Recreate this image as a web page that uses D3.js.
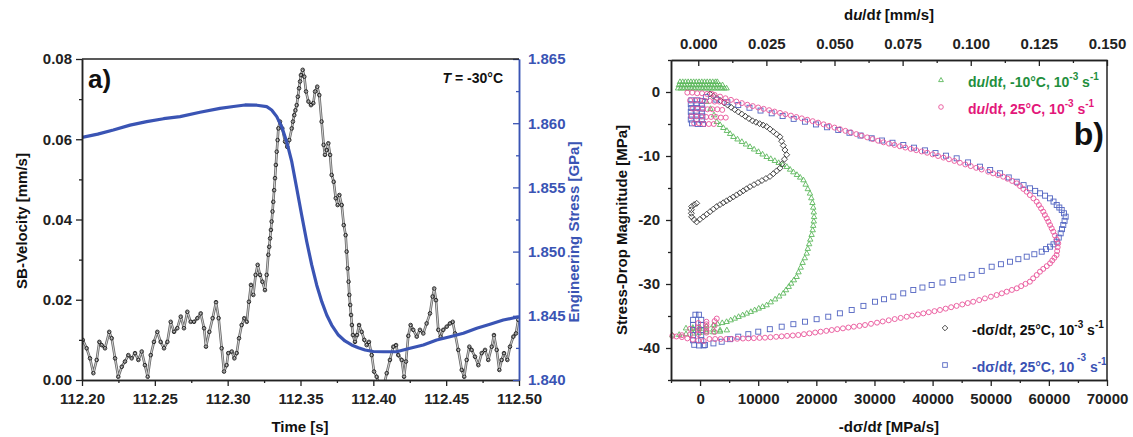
<!DOCTYPE html>
<html><head><meta charset="utf-8">
<script src="https://cdn.jsdelivr.net/npm/d3@7"></script>
<style>
body{margin:0;background:#fff;}
svg text{font-family:"Liberation Sans",Arial,Helvetica,sans-serif;font-weight:bold;}
</style></head><body>
<svg id="c" width="1133" height="437"></svg>
<script>
// ---------- Panel a) data ----------
const velocity = [[112.2005,0.0100],[112.2032,0.0079],[112.2055,0.0054],[112.2078,0.0017],[112.2101,0.0050],[112.2119,0.0095],[112.2135,0.0087],[112.2158,0.0079],[112.2187,0.0120],[112.2204,0.0104],[112.2227,0.0054],[112.2249,0.0008],[112.2273,0.0033],[112.2295,0.0046],[112.2318,0.0062],[112.2341,0.0054],[112.2364,0.0067],[112.2387,0.0050],[112.2410,0.0071],[112.2432,0.0037],[112.2451,0.0008],[112.2472,0.0062],[112.2494,0.0095],[112.2517,0.0120],[112.2540,0.0095],[112.2563,0.0079],[112.2586,0.0095],[112.2609,0.0145],[112.2632,0.0120],[112.2654,0.0129],[112.2678,0.0158],[112.2700,0.0129],[112.2723,0.0170],[112.2746,0.0145],[112.2769,0.0145],[112.2792,0.0154],[112.2815,0.0166],[112.2838,0.0129],[112.2851,0.0083],[112.2874,0.0120],[112.2897,0.0154],[112.2920,0.0194],[112.2938,0.0154],[112.2959,0.0079],[112.2975,0.0021],[112.2993,0.0037],[112.3004,0.0067],[112.3028,0.0071],[112.3046,0.0054],[112.3062,0.0067],[112.3078,0.0104],[112.3096,0.0137],[112.3114,0.0154],[112.3131,0.0145],[112.3146,0.0195],[112.3160,0.0237],[112.3176,0.0212],[112.3192,0.0262],[112.3206,0.0287],[112.3222,0.0262],[112.3238,0.0245],[112.3256,0.0224],[112.3268,0.0262],[112.3279,0.0312],[112.3285,0.0332],[112.3291,0.0353],[112.3297,0.0374],[112.3302,0.0395],[112.3308,0.0420],[112.3313,0.0444],[112.3319,0.0473],[112.3325,0.0503],[112.3331,0.0536],[112.3337,0.0569],[112.3343,0.0598],[112.3348,0.0627],[112.3359,0.0644],[112.3375,0.0627],[112.3394,0.0594],[112.3409,0.0581],[112.3423,0.0598],[112.3440,0.0627],[112.3448,0.0644],[112.3457,0.0660],[112.3465,0.0672],[112.3474,0.0685],[112.3482,0.0706],[112.3490,0.0727],[112.3497,0.0744],[112.3503,0.0760],[112.3515,0.0773],[112.3526,0.0756],[112.3538,0.0719],[112.3554,0.0694],[112.3572,0.0685],[112.3588,0.0690],[112.3600,0.0719],[112.3615,0.0731],[112.3629,0.0710],[112.3645,0.0644],[112.3659,0.0586],[112.3668,0.0561],[112.3680,0.0573],[112.3691,0.0590],[112.3703,0.0561],[112.3714,0.0511],[112.3728,0.0494],[112.3742,0.0453],[112.3755,0.0436],[112.3767,0.0461],[112.3783,0.0436],[112.3797,0.0386],[112.3810,0.0361],[112.3817,0.0320],[112.3824,0.0278],[112.3830,0.0245],[112.3835,0.0212],[112.3841,0.0187],[112.3847,0.0162],[112.3853,0.0137],[112.3860,0.0112],[112.3874,0.0095],[112.3888,0.0112],[112.3902,0.0137],[112.3920,0.0120],[112.3938,0.0100],[112.3954,0.0087],[112.3970,0.0095],[112.3989,0.0062],[112.4005,0.0021],[112.4023,0.0008],[112.4050,-0.0020],[112.4075,-0.0010],[112.4092,0.0017],[112.4114,0.0050],[112.4137,0.0083],[112.4156,0.0087],[112.4171,0.0062],[112.4195,0.0050],[112.4211,0.0008],[112.4224,0.0046],[112.4240,0.0110],[112.4256,0.0137],[112.4274,0.0125],[112.4298,0.0108],[112.4320,0.0125],[112.4343,0.0116],[112.4366,0.0141],[112.4389,0.0166],[112.4407,0.0208],[112.4418,0.0228],[112.4430,0.0199],[112.4446,0.0125],[112.4462,0.0108],[112.4480,0.0125],[112.4504,0.0133],[112.4526,0.0141],[112.4545,0.0145],[112.4561,0.0116],[112.4583,0.0075],[112.4607,0.0025],[112.4624,0.0008],[112.4641,0.0050],[112.4659,0.0083],[112.4675,0.0075],[112.4698,0.0058],[112.4721,0.0037],[112.4744,0.0067],[112.4767,0.0075],[112.4789,0.0050],[112.4813,0.0083],[112.4828,0.0112],[112.4847,0.0075],[112.4865,0.0025],[112.4881,0.0050],[112.4897,0.0067],[112.4920,0.0050],[112.4938,0.0083],[112.4961,0.0108],[112.4979,0.0116],[112.4995,0.0150]];

const stress = [[112.2000,1.85889],[112.2108,1.85915],[112.2215,1.85947],[112.2330,1.85985],[112.2444,1.86012],[112.2560,1.86035],[112.2673,1.86051],[112.2810,1.86085],[112.2947,1.86116],[112.3040,1.86130],[112.3119,1.86142],[112.3200,1.86140],[112.3268,1.86129],[112.3302,1.86103],[112.3337,1.86051],[112.3371,1.85973],[112.3405,1.85856],[112.3440,1.85700],[112.3474,1.85493],[112.3508,1.85285],[112.3543,1.85077],[112.3577,1.84896],[112.3611,1.84740],[112.3646,1.84610],[112.3680,1.84506],[112.3714,1.84428],[112.3760,1.84350],[112.3805,1.84304],[112.3851,1.84273],[112.3897,1.84252],[112.3943,1.84234],[112.4000,1.84222],[112.4068,1.84220],[112.4160,1.84220],[112.4252,1.84247],[112.4343,1.84273],[112.4435,1.84312],[112.4526,1.84337],[112.4618,1.84364],[112.4710,1.84403],[112.4801,1.84434],[112.4892,1.84467],[112.5000,1.84493]];

const timeTicks = [112.20,112.25,112.30,112.35,112.40,112.45,112.50];
const timeMinor = [112.225,112.275,112.325,112.375,112.425,112.475];
const velTicks = [0,0.02,0.04,0.06,0.08];
const velMinor = [0.01,0.03,0.05,0.07];
const stressTicks = [1.840,1.845,1.850,1.855,1.860,1.865];
const stressMinor = [1.8425,1.8475,1.8525,1.8575,1.8625];

// ---------- Panel b) data ----------
// du/dt series: [du/dt (mm/s), stress-drop magnitude (MPa)]
const duMinus10 = [
[-0.0067,1.6],[-0.0057,1.6],[-0.0047,1.6],[-0.0037,1.6],[-0.0027,1.6],[-0.0017,1.6],[-0.0007,1.6],[0.0003,1.6],[0.0013,1.6],[0.0023,1.6],[0.0033,1.6],[0.0043,1.6],[0.0053,1.6],[0.0063,1.6],[0.0070,1.6],
[-0.0071,1.1],[-0.0061,1.1],[-0.0051,1.1],[-0.0041,1.1],[-0.0031,1.1],[-0.0021,1.1],[-0.0011,1.1],[-0.0001,1.1],[0.0009,1.1],[0.0019,1.1],[0.0029,1.1],[0.0039,1.1],[0.0049,1.1],[0.0059,1.1],[0.0069,1.1],[0.0079,1.1],[0.0089,1.1],
[-0.0074,0.6],[-0.0064,0.6],[-0.0054,0.6],[-0.0044,0.6],[-0.0034,0.6],[-0.0024,0.6],[-0.0014,0.6],[-0.0004,0.6],[0.0006,0.6],[0.0016,0.6],[0.0026,0.6],[0.0036,0.6],[0.0046,0.6],[0.0056,0.6],[0.0066,0.6],[0.0076,0.6],[0.0086,0.6],[0.0096,0.6],[0.0104,0.6],
[0.0030,-1.5],[0.0045,-2.6],[0.0058,-3.6],
[0.0068,-4.64],[0.0080,-5.11],[0.0092,-5.58],[0.0105,-6.04],[0.0117,-6.51],[0.0129,-6.98],[0.0144,-7.37],[0.0160,-7.76],[0.0175,-8.16],[0.0190,-8.55],[0.0205,-8.94],[0.0221,-9.33],[0.0236,-9.72],[0.0251,-10.11],[0.0266,-10.42],[0.0281,-10.73],[0.0295,-11.05],[0.0310,-11.36],[0.0325,-11.67],[0.0337,-12.09],[0.0349,-12.50],[0.0362,-12.92],[0.0374,-13.33],[0.0386,-13.75],[0.0394,-14.44],[0.0402,-15.14],[0.0410,-15.83],[0.0415,-16.56],[0.0419,-17.30],[0.0422,-18.03],[0.0424,-18.77],[0.0425,-19.50],[0.0424,-20.19],[0.0422,-20.87],[0.0420,-21.56],[0.0416,-22.29],[0.0411,-23.02],[0.0407,-23.74],[0.0402,-24.47],[0.0398,-25.20],[0.0391,-25.93],[0.0383,-26.66],[0.0376,-27.40],[0.0368,-28.13],[0.0361,-28.86],[0.0351,-29.38],[0.0341,-29.90],[0.0332,-30.41],[0.0322,-30.93],[0.0312,-31.45],[0.0297,-31.91],[0.0282,-32.37],[0.0266,-32.82],[0.0251,-33.28],[0.0236,-33.54],[0.0222,-33.80],[0.0207,-34.06],[0.0193,-34.32],[0.0178,-34.58],[0.0163,-34.84],[0.0148,-35.10],[0.0134,-35.37],[0.0119,-35.63],[0.0104,-35.89],[0.0088,-36.06],[0.0071,-36.24],[0.0055,-36.41],
[0.0030,-36.6],[0.0005,-36.7],[-0.0020,-36.8],[-0.0045,-36.9],[-0.0020,-37.0],[0.0005,-37.0],[0.0030,-37.1],[0.0055,-37.1],[0.0080,-37.2],[0.0105,-37.2],[0.0080,-37.4],[0.0055,-37.5],[0.0030,-37.5],[0.0005,-37.6],[-0.0020,-37.7],[-0.0045,-37.8],[-0.0070,-37.9],[-0.0095,-38.0]];

const du25 = [
[-0.0040,-0.1],[-0.0022,-0.1],[-0.0004,-0.2],[0.0014,-0.2],[0.0032,-0.3],[0.0050,-0.3],
[-0.0030,-1.3],[-0.0012,-1.3],[0.0006,-1.3],[0.0024,-1.4],[0.0042,-1.4],[0.0060,-1.5],[0.0078,-1.5],[0.0096,-1.6],
[-0.0020,-2.6],[-0.0002,-2.6],[0.0016,-2.6],[0.0034,-2.7],[0.0052,-2.7],[0.0070,-2.7],[0.0088,-2.8],
[-0.0025,-3.8],[-0.0007,-3.8],[0.0011,-3.8],[0.0029,-3.9],[0.0047,-3.9],[0.0065,-3.9],[0.0083,-4.0],[0.0101,-4.0],
[-0.0015,-4.9],[0.0003,-4.9],[0.0021,-5.0],[0.0039,-5.0],[0.0057,-5.0],
[0.006,-0.46],[0.008,-0.72],[0.010,-0.98],[0.012,-1.23],[0.014,-1.49],[0.016,-1.74],[0.018,-1.99],[0.020,-2.20],[0.022,-2.42],[0.024,-2.63],[0.026,-2.84],[0.028,-3.06],[0.030,-3.27],[0.032,-3.48],[0.034,-3.69],[0.036,-3.91],[0.038,-4.12],[0.040,-4.34],[0.042,-4.56],[0.044,-4.79],[0.046,-5.05],[0.048,-5.30],[0.050,-5.56],[0.052,-5.81],[0.054,-6.07],[0.056,-6.32],[0.058,-6.58],[0.060,-6.83],[0.062,-7.09],[0.064,-7.35],[0.066,-7.61],[0.068,-7.86],[0.070,-8.07],[0.072,-8.27],[0.074,-8.48],[0.076,-8.68],[0.078,-8.89],[0.080,-9.09],[0.082,-9.29],[0.084,-9.49],[0.086,-9.74],[0.088,-10.00],[0.090,-10.25],[0.092,-10.51],[0.094,-10.77],[0.096,-11.05],[0.098,-11.32],[0.100,-11.58],[0.102,-11.85],[0.104,-12.11],
[0.1064,-12.45],[0.1082,-12.71],[0.1100,-12.97],[0.1119,-13.23],[0.1135,-13.55],[0.1152,-13.90],[0.1169,-14.27],[0.1181,-14.70],[0.1193,-15.14],[0.1205,-15.58],[0.1217,-16.10],[0.1230,-16.62],[0.1242,-17.14],[0.1250,-17.66],[0.1258,-18.18],[0.1266,-18.70],[0.1272,-19.22],[0.1279,-19.75],[0.1285,-20.27],[0.1291,-20.79],[0.1297,-21.31],[0.1303,-21.83],[0.1309,-22.43],[0.1315,-23.04],[0.1321,-23.64],[0.1319,-24.25],[0.1317,-24.86],[0.1315,-25.47],[0.1307,-25.90],[0.1299,-26.34],[0.1291,-26.77],[0.1279,-27.21],[0.1266,-27.64],[0.1254,-28.08],[0.1242,-28.60],[0.1229,-29.12],[0.1217,-29.64],[0.1201,-29.98],[0.1185,-30.33],[0.1169,-30.67],[0.1151,-30.93],[0.1132,-31.20],[0.1114,-31.46],[0.1095,-31.72],[0.1074,-31.98],[0.1052,-32.25],[0.1031,-32.51],[0.1009,-32.77],
[0.0989,-32.98],[0.0969,-33.20],[0.0948,-33.42],[0.0928,-33.63],[0.0908,-33.85],[0.0887,-34.06],[0.0867,-34.24],[0.0846,-34.41],[0.0826,-34.59],[0.0806,-34.76],[0.0785,-34.94],[0.0765,-35.11],[0.0743,-35.30],[0.0721,-35.48],[0.0699,-35.67],[0.0677,-35.85],[0.0656,-36.04],[0.0634,-36.22],[0.0612,-36.41],[0.0592,-36.54],[0.0571,-36.67],[0.0551,-36.80],[0.0531,-36.93],[0.0510,-37.06],[0.0490,-37.19],[0.0470,-37.32],[0.0449,-37.45],[0.0429,-37.58],[0.0408,-37.71],[0.0388,-37.84],[0.0367,-37.97],[0.0347,-38.04],[0.0326,-38.11],[0.0306,-38.18],[0.0286,-38.25],[0.0265,-38.32],[0.0245,-38.39],[0.0225,-38.42],[0.0204,-38.46],[0.0184,-38.49],[0.0164,-38.52],[0.0143,-38.56],[0.0123,-38.59],[0.0103,-38.59],[0.0082,-38.59],[0.0062,-38.59],[0.0041,-38.59],
[0.0020,-38.9],[0.0000,-38.8],[-0.0020,-38.7],[-0.0040,-38.5],[-0.0060,-38.3],[-0.0080,-38.2],[-0.0095,-38.1],[-0.0060,-38.0],[-0.0030,-37.9],[0.0000,-37.8],[0.0030,-37.6],[0.0060,-37.5],[0.0030,-37.3],[0.0000,-37.2],[-0.0030,-37.0],[0.0000,-36.8],[0.0030,-36.7],[0.0060,-36.5],[0.0030,-36.3],[0.0000,-36.1],[0.0030,-35.9],[0.0060,-35.8],[0.0068,-35.4]];

// -dsigma/dt series: [-dσ/dt (MPa/s), stress-drop magnitude (MPa)]
const dsBlack = [[1700,-0.30],[2310,-0.65],[2920,-1.00],[3530,-1.35],[4140,-1.70],[4750,-2.05],[5350,-2.40],[5960,-2.75],[6570,-3.10],[7180,-3.45],[7790,-3.80],[8400,-4.15],[9010,-4.50],[9620,-4.72],[10240,-4.95],[10850,-5.17],[11460,-5.40],[12030,-5.80],[12600,-6.20],[13170,-6.60],[13740,-7.00],[14030,-7.69],[14310,-8.37],[14600,-9.06],[14900,-9.80],[14520,-10.50],[14130,-11.20],[13750,-11.90],[13170,-12.33],[12600,-12.77],[12020,-13.20],[11330,-13.52],[10640,-13.84],[9960,-14.16],[9270,-14.48],[8580,-14.80],[8000,-15.12],[7430,-15.44],[6860,-15.76],[6280,-16.08],[5710,-16.40],[5140,-16.70],[4570,-17.00],[4000,-17.30],[3430,-17.60],[2860,-17.90],[2285,-18.30],[1710,-18.70],[1135,-19.10],[560,-19.50],[-15,-19.90],[-590,-20.30],[-1020,-19.95],[-1450,-19.50],[-1500,-18.95],[-1500,-18.40],[-1450,-17.90],[-1020,-17.60],[-580,-17.40]];

const dsBlue = [
[-1500,-1.3],[-500,-1.3],[400,-1.4],[-1600,-1.9],[-600,-1.9],[300,-2.0],[-1500,-2.5],[-500,-2.5],[400,-2.6],[-1600,-3.1],[-600,-3.1],[300,-3.2],[-1500,-3.7],[-500,-3.7],[400,-3.8],[-1600,-4.3],[-600,-4.3],[300,-4.4],[-1400,-4.9],[-400,-5.0],[500,-5.0],
[1000,-0.8],[2800,-1.20],[4700,-1.60],[6570,-2.03],[8500,-2.46],[10400,-2.90],[12320,-3.33],[14200,-3.76],[16100,-4.20],[18050,-4.64],[19950,-5.07],[21850,-5.51],[23770,-5.94],[25700,-6.37],[27600,-6.80],[29520,-7.23],[31300,-7.58],[33100,-7.93],[34960,-8.28],[36800,-8.70],[38700,-9.12],[40500,-9.54],[42300,-9.95],[44140,-10.36],[46100,-11.00],[48150,-11.67],[49900,-12.18],[51590,-12.70],[53100,-13.35],[54470,-14.02],[55650,-14.55],[56750,-15.05],[57650,-15.45],[58470,-15.83],[59350,-16.20],[60190,-16.61],[60800,-17.12],[61350,-17.66],[61800,-18.05],[62210,-18.44],[62600,-18.95],[62890,-19.48],[62700,-20.13],[62480,-20.78],[62250,-21.43],[62030,-22.08],[61700,-22.75],[61350,-23.39],[60800,-23.80],[60190,-24.17],[59500,-24.55],[58770,-24.95],[57500,-25.35],[56190,-25.73],[54750,-26.12],[53310,-26.52],[51750,-26.91],[50160,-27.30],[48450,-27.95],[46720,-28.58],[45100,-28.98],[43560,-29.38],[41700,-29.77],[39840,-30.16],[38250,-30.55],[36680,-30.94],[34950,-31.46],[33240,-31.98],[31650,-32.38],[30090,-32.77],[28100,-33.42],[26080,-34.06],[24050,-34.58],[22050,-35.11],[20050,-35.50],[18050,-35.89],[16050,-36.28],[14040,-36.67],[12000,-37.06],[10010,-37.45],[8300,-37.84],[6570,-38.23],[5150,-38.62],[3720,-39.02],[2300,-39.28],[840,-39.53],
[-800,-34.8],[-200,-34.8],[-1200,-35.6],[200,-35.6],[-1200,-36.4],[200,-36.4],[-1200,-37.2],[200,-37.2],[-1200,-38.0],[200,-38.0],[-1200,-38.8],[200,-38.8],[-1000,-39.5],[-200,-39.6],[600,-39.6]];

const rateTicks = [0,10000,20000,30000,40000,50000,60000,70000];
const rateMinor = [-5000,5000,15000,25000,35000,45000,55000,65000];
const duTicks = [0,0.025,0.05,0.075,0.1,0.125,0.15];
const duMinor = [0.0125,0.0375,0.0625,0.0875,0.1125,0.1375];
const dropTicks = [0,-10,-20,-30,-40];
const dropMinor = [5,-5,-15,-25,-35,-45];

// ---------- drawing ----------
const svg = d3.select("#c");
const AX = "#222";
const BLUE = "#3a54b4";

function styleAxis(g, color, fs){
  g.attr("font-family", null).attr("font-size", null);
  g.selectAll("path.domain").attr("stroke", color).attr("stroke-width", 1.5);
  g.selectAll(".tick line").attr("stroke", color).attr("stroke-width", 1.3);
  g.selectAll("text").attr("fill", color).style("font-size", (fs||15)+"px").style("font-weight","bold");
}
function addAxis(axis, tx, ty, color){
  const g = svg.append("g").attr("transform", `translate(${tx},${ty})`).call(axis);
  styleAxis(g, color);
  return g;
}

// ===== Panel a =====
const xA = d3.scaleLinear([112.2,112.5],[82,519]);
const yV = d3.scaleLinear([0,0.08],[380,59]);
const yS = d3.scaleLinear([1.84,1.865],[380,59]);

svg.append("clipPath").attr("id","clipA").append("rect").attr("x",82).attr("y",59).attr("width",437).attr("height",321);

const gA = svg.append("g").attr("clip-path","url(#clipA)");
gA.append("path").datum(velocity)
  .attr("d", d3.line().x(d=>xA(d[0])).y(d=>yV(d[1])))
  .attr("fill","none").attr("stroke","#666").attr("stroke-width",2.6).attr("stroke-linejoin","round");
gA.append("path").datum(velocity)
  .attr("d", d3.line().x(d=>xA(d[0])).y(d=>yV(d[1])))
  .attr("fill","none").attr("stroke","#eee").attr("stroke-width",0.8).attr("stroke-linejoin","round");
gA.selectAll("circle.v").data(velocity).join("circle").attr("class","v")
  .attr("cx",d=>xA(d[0])).attr("cy",d=>yV(d[1])).attr("r",1.8)
  .attr("fill","none").attr("stroke","#1a1a1a").attr("stroke-width",0.9);
gA.append("path").datum(stress)
  .attr("d", d3.line().x(d=>xA(d[0])).y(d=>yS(d[1])))
  .attr("fill","none").attr("stroke",BLUE).attr("stroke-width",3.2).attr("stroke-linejoin","round");

// axes a
addAxis(d3.axisBottom(xA).tickValues(timeTicks).tickFormat(d3.format(".2f")).tickSize(6).tickPadding(7).tickSizeOuter(0),0,380,AX);
addAxis(d3.axisBottom(xA).tickValues(timeMinor).tickFormat("").tickSize(3).tickSizeOuter(0),0,380,AX);
addAxis(d3.axisLeft(yV).tickValues(velTicks).tickFormat(d3.format(".2f")).tickSize(6).tickPadding(4).tickSizeOuter(0),82,0,AX);
addAxis(d3.axisLeft(yV).tickValues(velMinor).tickFormat("").tickSize(3).tickSizeOuter(0),82,0,AX);
addAxis(d3.axisRight(yS).tickValues(stressTicks).tickFormat(d3.format(".3f")).tickSize(-6).tickPadding(9).tickSizeOuter(0),519,0,BLUE);
addAxis(d3.axisRight(yS).tickValues(stressMinor).tickFormat("").tickSize(-3).tickSizeOuter(0),519,0,BLUE);
svg.append("line").attr("x1",82).attr("x2",519).attr("y1",59).attr("y2",59).attr("stroke",AX).attr("stroke-width",1.5);

svg.append("text").attr("x",88).attr("y",88).style("font-size","26px").attr("fill","#111").text("a)");
const tT = svg.append("text").attr("x",503).attr("y",83).attr("text-anchor","end").style("font-size","14px").attr("fill","#111");
tT.append("tspan").style("font-style","italic").text("T");
tT.append("tspan").text(" = -30°C");

svg.append("text").attr("x",300).attr("y",432).attr("text-anchor","middle").style("font-size","15px").attr("fill","#111").text("Time [s]");
svg.append("text").attr("transform","translate(27,221) rotate(-90)").attr("text-anchor","middle").style("font-size","15px").attr("fill","#111").text("SB-Velocity [mm/s]");
svg.append("text").attr("transform","translate(579,232) rotate(-90)").attr("text-anchor","middle").style("font-size","15px").attr("fill",BLUE).text("Engineering Stress [GPa]");

// ===== Panel b =====
const xB = d3.scaleLinear([-5000,70000],[671,1107]);
const xT = d3.scaleLinear([-0.01,0.15],[671,1107]);
const yR = d3.scaleLinear([-45,5],[380,60]);

const GREEN = "#5cb85c", PINK = "#e9539a", BLK = "#3a3a3a", BLUEM = "#5466c2";
const triPath = "M0,-2.9L2.7,1.8L-2.7,1.8Z";
const diaPath = "M0,-3L3,0L0,3L-3,0Z";

const gB = svg.append("g");
gB.selectAll("path.g").data(duMinus10).join("path").attr("class","g")
  .attr("transform",d=>`translate(${xT(d[0])},${yR(d[1])})`).attr("d",triPath)
  .attr("fill","none").attr("stroke",GREEN).attr("stroke-width",0.9);
gB.selectAll("path.k").data(dsBlack).join("path").attr("class","k")
  .attr("transform",d=>`translate(${xB(d[0])},${yR(d[1])})`).attr("d",diaPath)
  .attr("fill","none").attr("stroke",BLK).attr("stroke-width",0.9);
gB.selectAll("rect.b").data(dsBlue).join("rect").attr("class","b")
  .attr("x",d=>xB(d[0])-2.5).attr("y",d=>yR(d[1])-2.5).attr("width",5).attr("height",5)
  .attr("fill","none").attr("stroke",BLUEM).attr("stroke-width",0.9);
gB.selectAll("circle.p").data(du25).join("circle").attr("class","p")
  .attr("cx",d=>xT(d[0])).attr("cy",d=>yR(d[1])).attr("r",2.5)
  .attr("fill","none").attr("stroke",PINK).attr("stroke-width",0.9);

const fmtPlain = d => String(d);
addAxis(d3.axisBottom(xB).tickValues(rateTicks).tickFormat(fmtPlain).tickSize(6).tickPadding(7).tickSizeOuter(0),0,380,AX);
addAxis(d3.axisBottom(xB).tickValues(rateMinor).tickFormat("").tickSize(3).tickSizeOuter(0),0,380,AX);
addAxis(d3.axisTop(xT).tickValues(duTicks).tickFormat(d3.format(".3f")).tickSize(-6).tickPadding(11).tickSizeOuter(0),0,60,AX);
addAxis(d3.axisTop(xT).tickValues(duMinor).tickFormat("").tickSize(-3).tickSizeOuter(0),0,60,AX);
addAxis(d3.axisLeft(yR).tickValues(dropTicks).tickFormat(fmtPlain).tickSize(5).tickPadding(6).tickSizeOuter(0),671,0,AX);
addAxis(d3.axisLeft(yR).tickValues(dropMinor).tickFormat("").tickSize(3).tickSizeOuter(0),671,0,AX);
svg.append("line").attr("x1",1107).attr("x2",1107).attr("y1",60).attr("y2",380).attr("stroke",AX).attr("stroke-width",1.5);

// titles b
const tTop = svg.append("text").attr("x",889).attr("y",20).attr("text-anchor","middle").style("font-size","15px").attr("fill","#111");
tTop.append("tspan").text("d"); tTop.append("tspan").style("font-style","italic").text("u");
tTop.append("tspan").text("/d"); tTop.append("tspan").style("font-style","italic").text("t");
tTop.append("tspan").text(" [mm/s]");
const tBot = svg.append("text").attr("x",889).attr("y",432).attr("text-anchor","middle").style("font-size","15px").attr("fill","#111");
tBot.append("tspan").text("-dσ/d"); tBot.append("tspan").style("font-style","italic").text("t");
tBot.append("tspan").text(" [MPa/s]");
svg.append("text").attr("transform","translate(627,230) rotate(-90)").attr("text-anchor","middle").style("font-size","15px").attr("fill","#111").text("Stress-Drop Magnitude [MPa]");
svg.append("text").attr("x",1104).attr("y",145).attr("text-anchor","end").style("font-size","32px").attr("fill","#111").text("b)");

// legend
const legendItems = [
  {kind:"tri", color:"#1f8f3e", mcol:GREEN, sy:80, ty:87, sx:941, tx:968, parts:[["d",0],["u",1],["/d",0],["t",1],[", -10°C, 10",0]], supGap:false},
  {kind:"cir", color:"#e3177a", mcol:PINK, sy:107, ty:114, sx:941, tx:968, parts:[["d",0],["u",1],["/d",0],["t",1],[", 25°C, 10",0]], supGap:false},
  {kind:"dia", color:"#111", mcol:BLK, sy:328, ty:335, sx:945, tx:972, parts:[["-dσ/d",0],["t",1],[", 25°C, 10",0]], supGap:false},
  {kind:"sq", color:"#3a52b4", mcol:BLUEM, sy:365, ty:372, sx:945, tx:972, parts:[["-dσ/d",0],["t",1],[", 25°C, 10",0]], supGap:true}
];
legendItems.forEach(it=>{
  const s = svg.append("g").attr("transform",`translate(${it.sx},${it.sy})`);
  if(it.kind==="tri") s.append("path").attr("d","M0,-2.5L2.4,1.6L-2.4,1.6Z").attr("fill","none").attr("stroke",it.mcol).attr("stroke-width",0.9);
  if(it.kind==="cir") s.append("circle").attr("r",2.3).attr("fill","none").attr("stroke",it.mcol).attr("stroke-width",0.9);
  if(it.kind==="dia") s.append("path").attr("d","M0,-2.8L2.8,0L0,2.8L-2.8,0Z").attr("fill","none").attr("stroke",it.mcol).attr("stroke-width",0.9);
  if(it.kind==="sq") s.append("rect").attr("x",-2.3).attr("y",-2.3).attr("width",4.6).attr("height",4.6).attr("fill","none").attr("stroke",it.mcol).attr("stroke-width",0.9);
  const t = svg.append("text").attr("x",it.tx).attr("y",it.ty).style("font-size","14px").attr("fill",it.color);
  it.parts.forEach(p=>{ const ts=t.append("tspan").text(p[0]); if(p[1]) ts.style("font-style","italic"); });
  const up = it.supGap ? -11 : -7;
  t.append("tspan").attr("dy",up).style("font-size","10px").text(it.supGap ? " -3" : "-3");
  t.append("tspan").attr("dy",-up).style("font-size","14px").text(" s");
  t.append("tspan").attr("dy",-7).style("font-size","10px").text("-1");
});
</script>
</body></html>
